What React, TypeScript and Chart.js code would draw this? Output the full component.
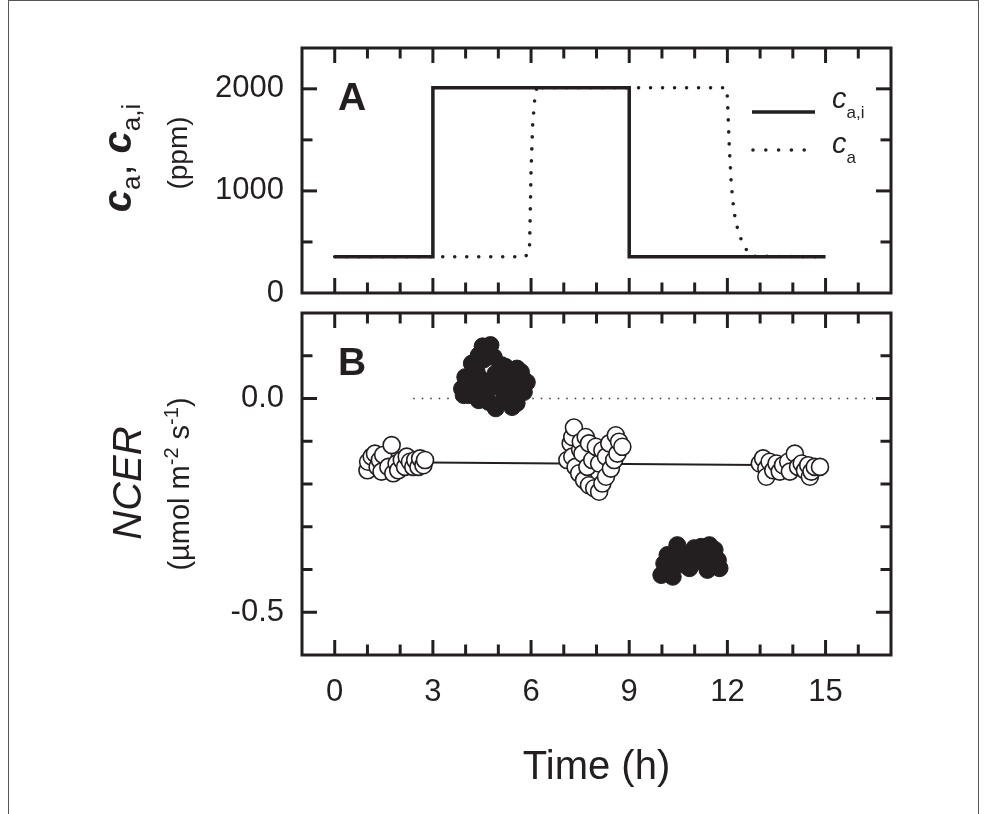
import React, { useEffect, useRef } from 'react';
import { Chart, registerables } from 'chart.js';

Chart.register(...registerables);

const INK = '#231f20';
const FONT = "'Liberation Sans', Arial, Helvetica, sans-serif";

// ---------- shared time axis ----------
const X_MIN = -1;
const X_MAX = 17;
const X_TICK_LABELS = [0, 3, 6, 9, 12, 15];
const X_TICK_MARKS = [0, 1, 2, 3, 4, 5, 6, 7, 8, 9, 10, 11, 12, 13, 14, 15, 16];
const X_TICK_MAJOR = [0, 3, 6, 9, 12, 15];

// ---------- panel A ----------
const A_Y_MIN = 0;
const A_Y_MAX = 2400;
const A_Y_TICK_LABELS = [0, 1000, 2000];
const A_Y_TICK_MARKS = [500, 1000, 1500, 2000];
const A_Y_TICK_MAJOR = [1000, 2000];

const CAI_TIME = [0, 3, 3, 9, 9, 15];
const CAI_PPM = [355, 355, 2010, 2010, 355, 355];

const CA_TIME = [0, 5.82, 5.95, 5.97, 6.0, 6.05, 6.12, 6.2, 6.35, 11.97, 12.0, 12.06, 12.12, 12.2, 12.28, 12.37, 12.57, 12.75, 15];
const CA_PPM = [355, 355, 400, 700, 1200, 1650, 1930, 2050, 2010, 2010, 1920, 1420, 1060, 800, 670, 560, 430, 360, 355];

// ---------- panel B ----------
const B_Y_MIN = -0.6;
const B_Y_MAX = 0.2;
const B_Y_TICK_LABELS = [0, -0.5];
const B_Y_TICK_MARKS = [0.1, 0, -0.1, -0.2, -0.3, -0.4, -0.5];
const B_Y_TICK_MAJOR = [0, -0.5];

const ZERO_T = [2.4, 16.45];
const ZERO_V = [0, 0];

const TREND_T = [1.9, 14.0];
const TREND_V = [-0.149, -0.156];

const OPEN_T = [
  1.0, 1.02, 1.13, 1.23, 1.31, 1.38, 1.48, 1.43, 1.64, 1.79, 1.89, 1.94, 2.05, 2.15, 2.2, 2.3, 2.4, 2.46, 2.56, 2.61, 2.71, 2.76, 1.74,
  7.11, 7.21, 7.26, 7.26, 7.31, 7.36, 7.47, 7.5, 7.52, 7.57, 7.62, 7.67, 7.72, 7.77, 7.77, 7.87, 7.93, 7.98, 8.08, 8.08, 8.18, 8.18, 8.29, 8.29, 8.39, 8.44, 8.54, 8.59, 8.64, 8.69, 8.79,
  12.99, 13.09, 13.19, 13.19, 13.29, 13.4, 13.5, 13.6, 13.7, 13.86, 13.91, 14.06, 14.16, 14.27, 14.37, 14.47, 14.52, 14.57, 14.67, 14.83,
];
const OPEN_V = [
  -0.168, -0.148, -0.136, -0.129, -0.16, -0.144, -0.132, -0.171, -0.16, -0.175, -0.152, -0.168, -0.144, -0.16, -0.136, -0.148, -0.16, -0.144, -0.16, -0.14, -0.156, -0.144, -0.109,
  -0.144, -0.105, -0.09, -0.136, -0.068, -0.16, -0.175, -0.12, -0.101, -0.129, -0.191, -0.09, -0.16, -0.203, -0.105, -0.144, -0.21, -0.113, -0.218, -0.152, -0.199, -0.121, -0.183, -0.136, -0.105, -0.164, -0.144, -0.086, -0.129, -0.101, -0.113,
  -0.152, -0.14, -0.164, -0.183, -0.148, -0.168, -0.152, -0.171, -0.156, -0.148, -0.171, -0.129, -0.16, -0.152, -0.168, -0.156, -0.183, -0.171, -0.16, -0.16,
];

const FILLED_T = [
  3.89, 3.99, 4.09, 4.19, 4.4, 4.4, 4.5, 4.7, 4.76, 4.91, 5.01, 5.22, 5.32, 5.42, 5.47, 5.57, 5.63, 5.78,
  4.09, 4.34, 4.55, 4.86, 5.1, 4.92, 4.65, 4.4, 5.17, 5.38, 5.69, 5.78, 5.87, 5.56, 4.92, 4.52, 3.94,
  10.07, 10.23, 10.33, 10.43, 10.53, 10.69, 10.84, 10.94, 11.2, 11.3, 11.45, 11.5, 11.61, 11.71,
  10.17, 10.41, 10.62, 10.84, 11.08, 11.3, 11.51, 11.76, 11.39, 10.99, 9.98, 10.47,
];
const FILLED_V = [
  0.023, 0.05, 0.008, 0.082, 0.101, 0.019, 0.043, -0.008, 0.125, 0.058, 0.027, 0.074, 0.035, -0.02, 0.008, 0.07, 0.019, 0.043,
  0.031, 0.062, 0.091, 0.097, 0.078, 0.031, 0.015, -0.004, 0.0, 0.054, 0.062, 0.015, 0.038, -0.011, -0.023, 0.122, 0.008,
  -0.386, -0.409, -0.417, -0.39, -0.358, -0.389, -0.39, -0.378, -0.347, -0.386, -0.343, -0.389, -0.354, -0.378,
  -0.366, -0.39, -0.369, -0.397, -0.373, -0.355, -0.369, -0.397, -0.401, -0.35, -0.413, -0.343,
];

const pts = (xs: number[], ys: number[]) => xs.map((x, i) => ({ x, y: ys[i] }));

const framePlugin = {
  id: 'frameTicks',
  afterDraw(chart: any, _args: any, opts: any) {
    const { ctx, chartArea: a, scales } = chart;
    const xs = scales.x;
    const ys = scales.y;
    ctx.save();
    ctx.strokeStyle = INK;
    ctx.lineWidth = 3;
    ctx.lineCap = 'butt';
    const seg = (x1: number, y1: number, x2: number, y2: number) => {
      ctx.beginPath();
      ctx.moveTo(x1, y1);
      ctx.lineTo(x2, y2);
      ctx.stroke();
    };
    for (const v of opts.xMarks) {
      const px = xs.getPixelForValue(v);
      const len = opts.xMajor.includes(v) ? 15 : 10.5;
      seg(px, a.bottom, px, a.bottom - len);
      seg(px, a.top, px, a.top + len);
    }
    for (const v of opts.yMarks) {
      const py = ys.getPixelForValue(v);
      const len = opts.yMajor.includes(v) ? 15 : 10.5;
      seg(a.left, py, a.left + len, py);
      seg(a.right, py, a.right - len, py);
    }
    ctx.strokeRect(a.left, a.top, a.right - a.left, a.bottom - a.top);
    // panel letter
    ctx.fillStyle = INK;
    ctx.font = `bold 39px ${FONT}`;
    ctx.textBaseline = 'alphabetic';
    ctx.textAlign = 'left';
    ctx.fillText(opts.label, a.left + 36, a.top + 62);
    ctx.restore();
  },
};

const legendPlugin = {
  id: 'legendA',
  afterDraw(chart: any) {
    const { ctx, chartArea: a } = chart;
    ctx.save();
    ctx.strokeStyle = INK;
    // solid sample
    ctx.lineWidth = 3.5;
    ctx.beginPath();
    ctx.moveTo(a.left + 450, a.top + 64);
    ctx.lineTo(a.left + 513, a.top + 64);
    ctx.stroke();
    // dotted sample
    ctx.lineWidth = 3.6;
    ctx.lineCap = 'round';
    ctx.setLineDash([0, 12.8]);
    ctx.beginPath();
    ctx.moveTo(a.left + 451, a.top + 102);
    ctx.lineTo(a.left + 503, a.top + 102);
    ctx.stroke();
    ctx.setLineDash([]);
    ctx.fillStyle = INK;
    ctx.textAlign = 'left';
    ctx.textBaseline = 'alphabetic';
    const tx = a.left + 530;
    ctx.font = `italic 29px ${FONT}`;
    ctx.fillText('c', tx, a.top + 60);
    const cw = ctx.measureText('c').width;
    ctx.font = `17px ${FONT}`;
    ctx.fillText('a,i', tx + cw, a.top + 70);
    ctx.font = `italic 29px ${FONT}`;
    ctx.fillText('c', tx, a.top + 105);
    ctx.font = `17px ${FONT}`;
    ctx.fillText('a', tx + cw, a.top + 115);
    ctx.restore();
  },
};

const tickFont = { family: FONT, size: 31 };

const fitY = (s: any) => {
  s.width = 302;
  s.paddingTop = 0;
  s.paddingBottom = 0;
};

export default function App() {
  const refA = useRef<HTMLCanvasElement | null>(null);
  const refB = useRef<HTMLCanvasElement | null>(null);

  useEffect(() => {
    const chartA = new Chart(refA.current as HTMLCanvasElement, {
      type: 'line',
      data: {
        datasets: [
          {
            label: 'c_a,i',
            data: pts(CAI_TIME, CAI_PPM),
            borderColor: INK,
            borderWidth: 3.5,
            pointRadius: 0,
            tension: 0,
            fill: false,
            borderJoinStyle: 'miter',
            order: 0,
          },
          {
            label: 'c_a',
            data: pts(CA_TIME, CA_PPM),
            borderColor: INK,
            borderWidth: 3.6,
            borderDash: [0, 12],
            borderCapStyle: 'round',
            pointRadius: 0,
            tension: 0,
            fill: false,
            order: 1,
          },
        ],
      },
      options: {
        responsive: false,
        animation: false,
        devicePixelRatio: 1,
        layout: { padding: { left: 0, top: 48, right: 97, bottom: 27 } },
        plugins: {
          legend: { display: false },
          tooltip: { enabled: false },
          frameTicks: {
            label: 'A',
            xMarks: X_TICK_MARKS,
            xMajor: X_TICK_MAJOR,
            yMarks: A_Y_TICK_MARKS,
            yMajor: A_Y_TICK_MAJOR,
          },
        } as any,
        scales: {
          x: { type: 'linear', min: X_MIN, max: X_MAX, display: false },
          y: {
            type: 'linear',
            min: A_Y_MIN,
            max: A_Y_MAX,
            afterFit: fitY,
            afterBuildTicks: (s: any) => {
              s.ticks = A_Y_TICK_LABELS.map((v) => ({ value: v }));
            },
            grid: { display: false, drawTicks: false },
            border: { display: false },
            ticks: {
              font: tickFont,
              color: INK,
              padding: 18,
              autoSkip: false,
              callback: (v: any) => String(v),
            },
          },
        },
      } as any,
      plugins: [framePlugin, legendPlugin],
    });

    const chartB = new Chart(refB.current as HTMLCanvasElement, {
      type: 'line',
      data: {
        datasets: [
          {
            label: 'open',
            data: pts(OPEN_T, OPEN_V),
            showLine: false,
            pointRadius: 8.5,
            pointBackgroundColor: '#ffffff',
            pointBorderColor: INK,
            pointBorderWidth: 1.6,
            order: 1,
          },
          {
            label: 'filled',
            data: pts(FILLED_T, FILLED_V),
            showLine: false,
            pointRadius: 8.5,
            pointBackgroundColor: INK,
            pointBorderColor: INK,
            pointBorderWidth: 1,
            order: 0,
          },
          {
            label: 'trend',
            data: pts(TREND_T, TREND_V),
            borderColor: INK,
            borderWidth: 2,
            pointRadius: 0,
            tension: 0,
            fill: false,
            order: 5,
          },
          {
            label: 'zero',
            data: pts(ZERO_T, ZERO_V),
            borderColor: '#333333',
            borderWidth: 1.4,
            borderDash: [1.5, 7],
            pointRadius: 0,
            tension: 0,
            fill: false,
            order: 6,
          },
        ],
      },
      options: {
        responsive: false,
        animation: false,
        devicePixelRatio: 1,
        layout: { padding: { left: 0, top: 13, right: 97, bottom: 0 } },
        plugins: {
          legend: { display: false },
          tooltip: { enabled: false },
          frameTicks: {
            label: 'B',
            xMarks: X_TICK_MARKS,
            xMajor: X_TICK_MAJOR,
            yMarks: B_Y_TICK_MARKS,
            yMajor: B_Y_TICK_MAJOR,
          },
        } as any,
        scales: {
          x: {
            type: 'linear',
            position: 'bottom',
            min: X_MIN,
            max: X_MAX,
            afterFit: (s: any) => {
              s.height = 159;
              s.paddingLeft = 0;
              s.paddingRight = 0;
            },
            afterBuildTicks: (s: any) => {
              s.ticks = X_TICK_LABELS.map((v) => ({ value: v }));
            },
            grid: { display: false, drawTicks: false },
            border: { display: false },
            ticks: {
              font: tickFont,
              color: INK,
              padding: 19,
              autoSkip: false,
              maxRotation: 0,
              callback: (v: any) => String(v),
            },
            title: {
              display: true,
              text: 'Time (h)',
              color: INK,
              font: { family: FONT, size: 40 },
              padding: { top: 0, bottom: 22 },
            },
          },
          y: {
            type: 'linear',
            min: B_Y_MIN,
            max: B_Y_MAX,
            afterFit: fitY,
            afterBuildTicks: (s: any) => {
              s.ticks = B_Y_TICK_LABELS.map((v) => ({ value: v }));
            },
            grid: { display: false, drawTicks: false },
            border: { display: false },
            ticks: {
              font: tickFont,
              color: INK,
              padding: 18,
              autoSkip: false,
              callback: (v: any) => Number(v).toFixed(1),
            },
          },
        },
      } as any,
      plugins: [framePlugin],
    });

    return () => {
      chartA.destroy();
      chartB.destroy();
    };
  }, []);

  const rot: React.CSSProperties = {
    position: 'absolute',
    transform: 'translate(-50%, -50%) rotate(-90deg)',
    whiteSpace: 'nowrap',
    color: INK,
    fontFamily: FONT,
    lineHeight: 1,
  };

  return (
    <div style={{ position: 'absolute', left: 0, top: 0, width: 988, height: 814, overflow: 'hidden', background: '#fff' }}>
      <div
        style={{
          position: 'absolute',
          left: 8,
          top: 0,
          width: 971,
          height: 830,
          border: '1px solid #555',
          boxSizing: 'border-box',
        }}
      />
      <canvas ref={refA} width={988} height={320} style={{ position: 'absolute', left: 0, top: 0, width: 988, height: 320 }} />
      <canvas ref={refB} width={988} height={514} style={{ position: 'absolute', left: 0, top: 300, width: 988, height: 514 }} />

      {/* Panel A y-axis title */}
      <div style={{ ...rot, left: 117, top: 158, fontSize: 40 }}>
        <span style={{ fontWeight: 'bold', fontStyle: 'italic' }}>c</span>
        <span style={{ fontSize: 26, position: 'relative', top: 9 }}>a</span>
        <span style={{ fontSize: 40 }}>, </span>
        <span style={{ fontWeight: 'bold', fontStyle: 'italic' }}>c</span>
        <span style={{ fontSize: 26, position: 'relative', top: 9 }}>a,i</span>
      </div>
      <div style={{ ...rot, left: 178, top: 153, fontSize: 28 }}>(ppm)</div>

      {/* Panel B y-axis title */}
      <div style={{ ...rot, left: 127, top: 483, fontSize: 40, fontStyle: 'italic' }}>NCER</div>
      <div style={{ ...rot, left: 179, top: 484, fontSize: 29 }}>
        (µmol m<span style={{ fontSize: 20, position: 'relative', top: -11 }}>-2</span> s
        <span style={{ fontSize: 20, position: 'relative', top: -11 }}>-1</span>)
      </div>
    </div>
  );
}
